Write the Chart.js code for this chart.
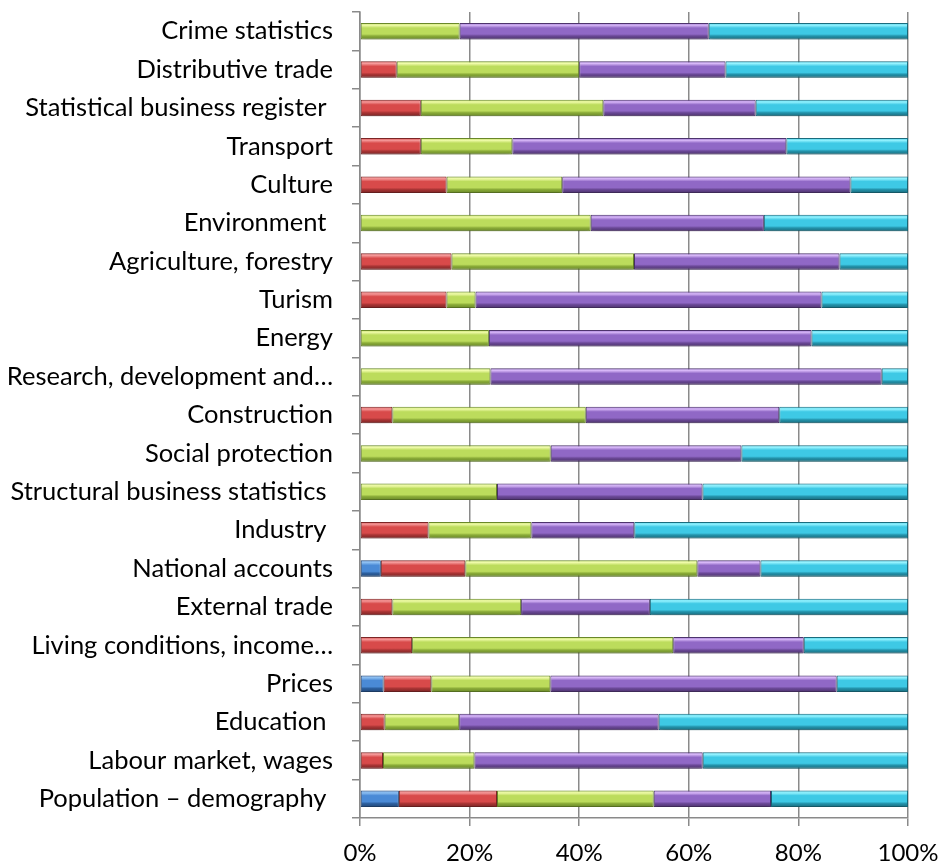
<!DOCTYPE html>
<html>
<head>
<meta charset="utf-8">
<script src="https://cdn.jsdelivr.net/npm/chart.js"></script>
<style>
  html, body { margin: 0; padding: 0; background: #fff; }
  #wrap { width: 941px; height: 865px; }
</style>
</head>
<body>
<div id="wrap"><canvas id="mychart" width="941" height="865"></canvas></div>
<script>
// categories, top to bottom as in the picture
var topics = [
  'Crime statistics',
  'Distributive trade',
  'Statistical business register ',
  'Transport',
  'Culture',
  'Environment ',
  'Agriculture, forestry',
  'Turism',
  'Energy',
  'Research, development and\u2026',
  'Construction',
  'Social protection',
  'Structural business statistics ',
  'Industry ',
  'National accounts',
  'External trade',
  'Living conditions, income\u2026',
  'Prices',
  'Education ',
  'Labour market, wages',
  'Population \u2013 demography '
];

// shares in percent, one array per series (same order as topics)
var blueVals   = [0, 0, 0, 0, 0, 0, 0, 0, 0, 0, 0, 0, 0, 0, 3.8, 0, 0, 4.3, 0, 0, 7.1];
var redVals    = [0, 6.7, 11.1, 11.1, 15.8, 0, 16.7, 15.8, 0, 0, 5.9, 0, 0, 12.5, 15.4, 5.9, 9.5, 8.7, 4.5, 4.2, 17.9];
var greenVals  = [18.2, 33.3, 33.3, 16.7, 21.1, 42.1, 33.3, 5.3, 23.5, 23.8, 35.3, 34.8, 25.0, 18.8, 42.3, 23.5, 47.6, 21.7, 13.6, 16.7, 28.6];
var purpleVals = [45.5, 26.7, 27.8, 50.0, 52.6, 31.6, 37.5, 63.2, 58.8, 71.4, 35.3, 34.8, 37.5, 18.8, 11.5, 23.5, 23.8, 52.2, 36.4, 41.7, 21.4];
var cyanVals   = [36.4, 33.3, 27.8, 22.2, 10.5, 26.3, 12.5, 15.8, 17.6, 4.8, 23.5, 30.4, 37.5, 50.0, 26.9, 47.1, 19.0, 13.0, 45.5, 37.5, 25.0];

var xTicks = [0, 20, 40, 60, 80, 100];

// 100% stacked: scale every row so it sums to 100
var rowSum = topics.map(function (t, i) {
  return blueVals[i] + redVals[i] + greenVals[i] + purpleVals[i] + cyanVals[i];
});
function norm(arr) {
  return arr.map(function (v, i) { return v / rowSum[i] * 100; });
}

// light / mid / dark tones for the bevel look
var tones = {
  blue:   ['#8ec0f2', '#4a8ad6', '#2c5f9e', '#23497a'],
  red:    ['#f59a9a', '#d84a4a', '#a83434', '#7e2626'],
  green:  ['#f0fbaa', '#bcdc5c', '#8aab38', '#6b8a2a'],
  purple: ['#d8b8f8', '#9068c6', '#6a4896', '#4f356f'],
  cyan:   ['#95f3ff', '#3ec9e5', '#2393ab', '#1a6e80']
};

function bevel(name) {
  var t = tones[name];
  return function (c) {
    var chart = c.chart;
    var ys = chart.scales && chart.scales.y;
    if (c.dataIndex === undefined || !ys || !chart.chartArea) return t[1];
    var cy = ys.getPixelForValue(c.dataIndex);
    var g = chart.ctx.createLinearGradient(0, cy - 8, 0, cy + 8);
    g.addColorStop(0, t[1]);
    g.addColorStop(0.12, t[0]);
    g.addColorStop(0.3, t[1]);
    g.addColorStop(0.68, t[1]);
    g.addColorStop(0.8, t[2]);
    g.addColorStop(1, t[3]);
    return g;
  };
}

function series(label, vals, name) {
  return {
    label: label,
    data: norm(vals),
    backgroundColor: bevel(name),
    borderColor: tones[name][3],
    borderWidth: 1,
    borderSkipped: false,
    barPercentage: 0.43,
    categoryPercentage: 1
  };
}

// soft shadow under the bars
var shadowPlugin = {
  id: 'barShadow',
  beforeDatasetsDraw: function (chart) {
    var ctx = chart.ctx;
    ctx.save();
    ctx.shadowColor = 'rgba(0,0,0,0.25)';
    ctx.shadowBlur = 5;
    ctx.shadowOffsetY = 3;
  },
  afterDatasetsDraw: function (chart) {
    chart.ctx.restore();
  }
};

var ctx = document.getElementById('mychart');
var mychart = new Chart(ctx, {
  type: 'bar',
  data: {
    labels: topics,
    datasets: [
      series('A', blueVals, 'blue'),
      series('B', redVals, 'red'),
      series('C', greenVals, 'green'),
      series('D', purpleVals, 'purple'),
      series('E', cyanVals, 'cyan')
    ]
  },
  plugins: [shadowPlugin],
  options: {
    indexAxis: 'y',
    responsive: false,
    animation: false,
    layout: { padding: { left: 0, right: 33, top: 12, bottom: 0 } },
    plugins: {
      legend: { display: false },
      tooltip: { enabled: false }
    },
    scales: {
      x: {
        stacked: true,
        min: 0,
        max: 100,
        afterBuildTicks: function (axis) {
          axis.ticks = xTicks.map(function (v) { return { value: v }; });
        },
        afterFit: function (axis) {
          axis.height = 47;
          axis.paddingLeft = 0;
          axis.paddingRight = 0;
        },
        grid: { color: '#8a8a8a', lineWidth: 1.5, tickLength: 8 },
        border: { color: '#8a8a8a', width: 1.5 },
        ticks: {
          padding: 13,
          color: '#000',
          font: { family: 'Lato', size: 24 },
          callback: function (v) { return v + '%'; }
        }
      },
      y: {
        stacked: true,
        afterFit: function (axis) {
          axis.width = 360;
          axis.paddingTop = 0;
          axis.paddingBottom = 0;
        },
        grid: { drawOnChartArea: false, color: '#8a8a8a', lineWidth: 1.5, tickLength: 8 },
        border: { color: '#8a8a8a', width: 1.5 },
        ticks: {
          padding: 19,
          autoSkip: false,
          color: '#000',
          font: { family: 'Lato', size: 25.5 }
        }
      }
    }
  }
});
</script>
</body>
</html>
